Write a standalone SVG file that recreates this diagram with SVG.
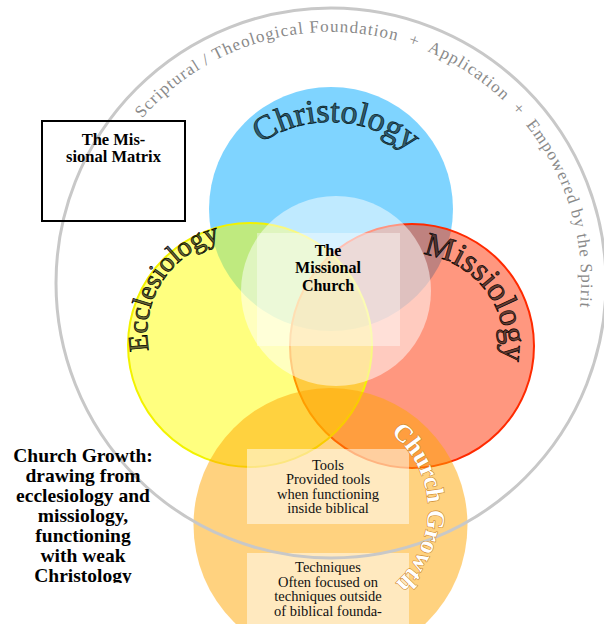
<svg xmlns="http://www.w3.org/2000/svg" width="604" height="624" viewBox="0 0 604 624">
<style>
.lbl{font-family:"Liberation Serif","Times New Roman",serif;font-weight:bold;fill:#000;text-anchor:middle}
.small{font-family:"Liberation Serif","Times New Roman",serif;font-size:14.5px;fill:#111;text-anchor:middle}
.arcword{font-family:"Liberation Serif","Times New Roman",serif;text-anchor:middle}
</style>
<defs>
<path id="pOuter" d="M142,118.5 A250,250 0 0 1 577.2,326.4"/>
<path id="pChristo" d="M207,245 A123,123 0 0 1 453,245"/>
<path id="pEccl" d="M190.3,412.7 A95,95 0 0 1 293.7,253.3"/>
<path id="pMiss" d="M356.6,272.5 A92,92 0 0 1 467.4,419.5"/>
<path id="pCG" d="M330,412 A98,98 0 0 1 330,608"/>
<clipPath id="clipLeft"><rect x="0" y="0" width="604" height="583"/></clipPath>
</defs>
<rect width="604" height="624" fill="#fff"/>

<g id="christology">
<circle cx="331" cy="209" r="122" fill="#00aaff" fill-opacity="0.5"/>
</g>
<g id="missiology">
<circle cx="412" cy="346" r="122" fill="#ff3000" fill-opacity="0.5" stroke="#ff2a00" stroke-width="2"/>
</g>
<g id="ecclesiology">
<circle cx="250" cy="345" r="122" fill="#ffff00" fill-opacity="0.5" stroke="#f2f200" stroke-width="2"/>
</g>
<g id="church-growth">
<circle cx="330.5" cy="525" r="137" fill="#ffa500" fill-opacity="0.5"/>
</g>
<g id="missional-church">
<circle cx="336" cy="291" r="95" fill="#fff" fill-opacity="0.5"/>
<rect x="257" y="233" width="143" height="113" fill="#fff" fill-opacity="0.4"/>
<text class="lbl" font-size="16" x="328" y="256">The</text>
<text class="lbl" font-size="16" x="328" y="273">Missional</text>
<text class="lbl" font-size="16" x="328" y="290.5">Church</text>
</g>
<g id="tools">
<rect x="247" y="449" width="162" height="75" fill="#fff" fill-opacity="0.5"/>
<text class="small" x="328" y="469.5">Tools</text>
<text class="small" x="328" y="484">Provided tools</text>
<text class="small" x="328" y="498.5">when functioning</text>
<text class="small" x="328" y="513">inside biblical</text>
</g>
<g id="techniques">
<rect x="247" y="553" width="162" height="71" fill="#fff" fill-opacity="0.5"/>
<text class="small" x="328" y="572">Techniques</text>
<text class="small" x="328" y="586.5">Often focused on</text>
<text class="small" x="328" y="601">techniques outside</text>
<text class="small" x="328" y="615.5">of biblical founda-</text>
</g>

<g id="foundation">
<circle cx="331" cy="283" r="275" fill="none" stroke="#c8c8c8" stroke-width="3"/>
<text xml:space="preserve" font-family="'Liberation Serif','Times New Roman',serif" font-size="17" fill="#8a8a8a" letter-spacing="1.1"><textPath href="#pOuter" startOffset="0">Scriptural / Theological Foundation  +  Application  +  Empowered by the Spirit</textPath></text>
</g>

<g id="circle-labels">
<text class="arcword" font-size="34" fill="#2f5d70" stroke="#0a1a20" stroke-width="0.7"><textPath href="#pChristo" startOffset="51.7%">Christology</textPath></text>
<text class="arcword" font-size="28" fill="#000" fill-opacity="0.6" stroke="#000" stroke-width="0.7"><textPath href="#pEccl" startOffset="50%">Ecclesiology</textPath></text>
<text class="arcword" font-size="33" fill="#000" fill-opacity="0.6" stroke="#000" stroke-width="0.7"><textPath href="#pMiss" startOffset="50%">Missiology</textPath></text>
<text class="arcword" font-size="25" font-weight="bold" fill="#fff" stroke="#d08a30" stroke-width="1.2" paint-order="stroke"><textPath href="#pCG" startOffset="49%">Church Growth</textPath></text>
</g>

<g id="matrix-box">
<rect x="42" y="121" width="143" height="100" fill="none" stroke="#000" stroke-width="2"/>
<text class="lbl" font-size="16.5" x="113.5" y="145">The Mis-</text>
<text class="lbl" font-size="16.5" x="113.5" y="162">sional Matrix</text>
</g>

<g id="church-growth-note" clip-path="url(#clipLeft)">
<text class="lbl" font-size="19.5" x="83" y="462">Church Growth:</text>
<text class="lbl" font-size="19.5" x="83" y="482">drawing from</text>
<text class="lbl" font-size="19.5" x="83" y="502">ecclesiology and</text>
<text class="lbl" font-size="19.5" x="83" y="522">missiology,</text>
<text class="lbl" font-size="19.5" x="83" y="542">functioning</text>
<text class="lbl" font-size="19.5" x="83" y="562">with weak</text>
<text class="lbl" font-size="19.5" x="83" y="582">Christology</text>
</g>
<g id="connectors"></g>
</svg>
